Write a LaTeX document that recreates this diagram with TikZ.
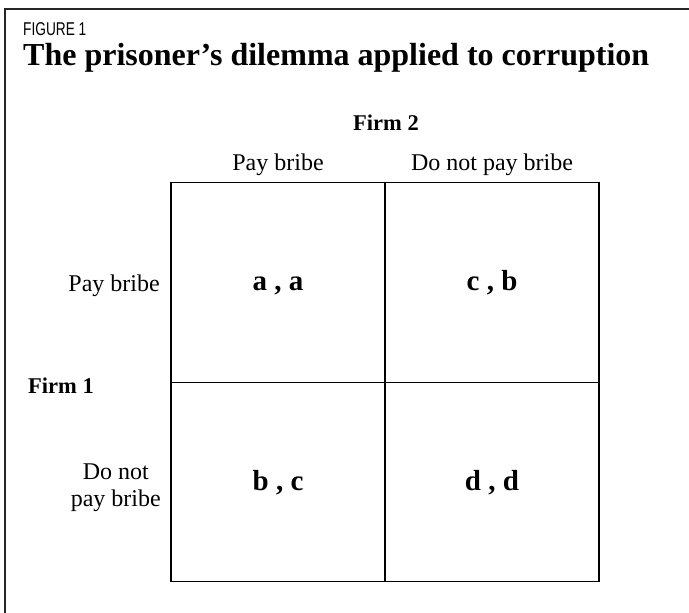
\documentclass[tikz,border=0pt]{standalone}
\usepackage{fontspec}
\setmainfont{Liberation Serif}
\newfontfamily\figfont[FakeStretch=0.74]{Liberation Sans}
\begin{document}
\begin{tikzpicture}[x=1pt,y=-1pt,
  cell/.style={draw=black,line width=1.3pt,minimum width=214pt,minimum height=199.5pt,inner sep=0pt,outer sep=0pt},
  pay/.style={anchor=base,inner sep=0pt,font=\fontsize{29}{32}\selectfont\bfseries},
  hdr/.style={anchor=base,inner sep=0pt,font=\fontsize{24}{27}\selectfont},
  firm/.style={anchor=base,inner sep=0pt,font=\fontsize{22.5}{25}\selectfont\bfseries}]
\useasboundingbox (0,0) rectangle (689,613);
\fill[white] (0,0) rectangle (689,613);
% outer frame (top and left visible)
\draw[line width=1.8pt,draw=black!85] (5,640) -- (5,9.3) -- (700,9.3);
\node[anchor=base west,inner sep=0pt,font=\fontsize{18.5}{20}\figfont] (fig) at (23,35) {FIGURE 1};
\node[anchor=base west,inner sep=0pt,font=\fontsize{32}{36}\selectfont\bfseries] (title) at (23,65) {The prisoner’s dilemma applied to corruption};
% matrix cells
\node[cell] (c11) at (278,282.4) {};
\node[cell] (c12) at (492,282.4) {};
\node[cell] (c21) at (278,481.9) {};
\node[cell] (c22) at (492,481.9) {};
\node[pay] (p11) at ([yshift=-8.5pt]c11.center) {a , a};
\node[pay] (p12) at ([yshift=-8.5pt]c12.center) {c , b};
\node[pay] (p21) at ([yshift=-8.5pt]c21.center) {b , c};
\node[pay] (p22) at ([yshift=-8.5pt]c22.center) {d , d};
% headers
\node[firm] (f2) at (386,130) {Firm 2};
\node[hdr] (h1) at (278,170) {Pay bribe};
\node[hdr] (h2) at (492,170) {Do not pay bribe};
\node[hdr,anchor=base east] (r1) at (160,291) {Pay bribe};
\node[firm,anchor=base west] (f1) at (28,393) {Firm 1};
\node[inner sep=0pt,align=center,anchor=east,font=\fontsize{24}{27}\selectfont] (r2) at (161,488) {Do not\\pay bribe};
\end{tikzpicture}
\end{document}
